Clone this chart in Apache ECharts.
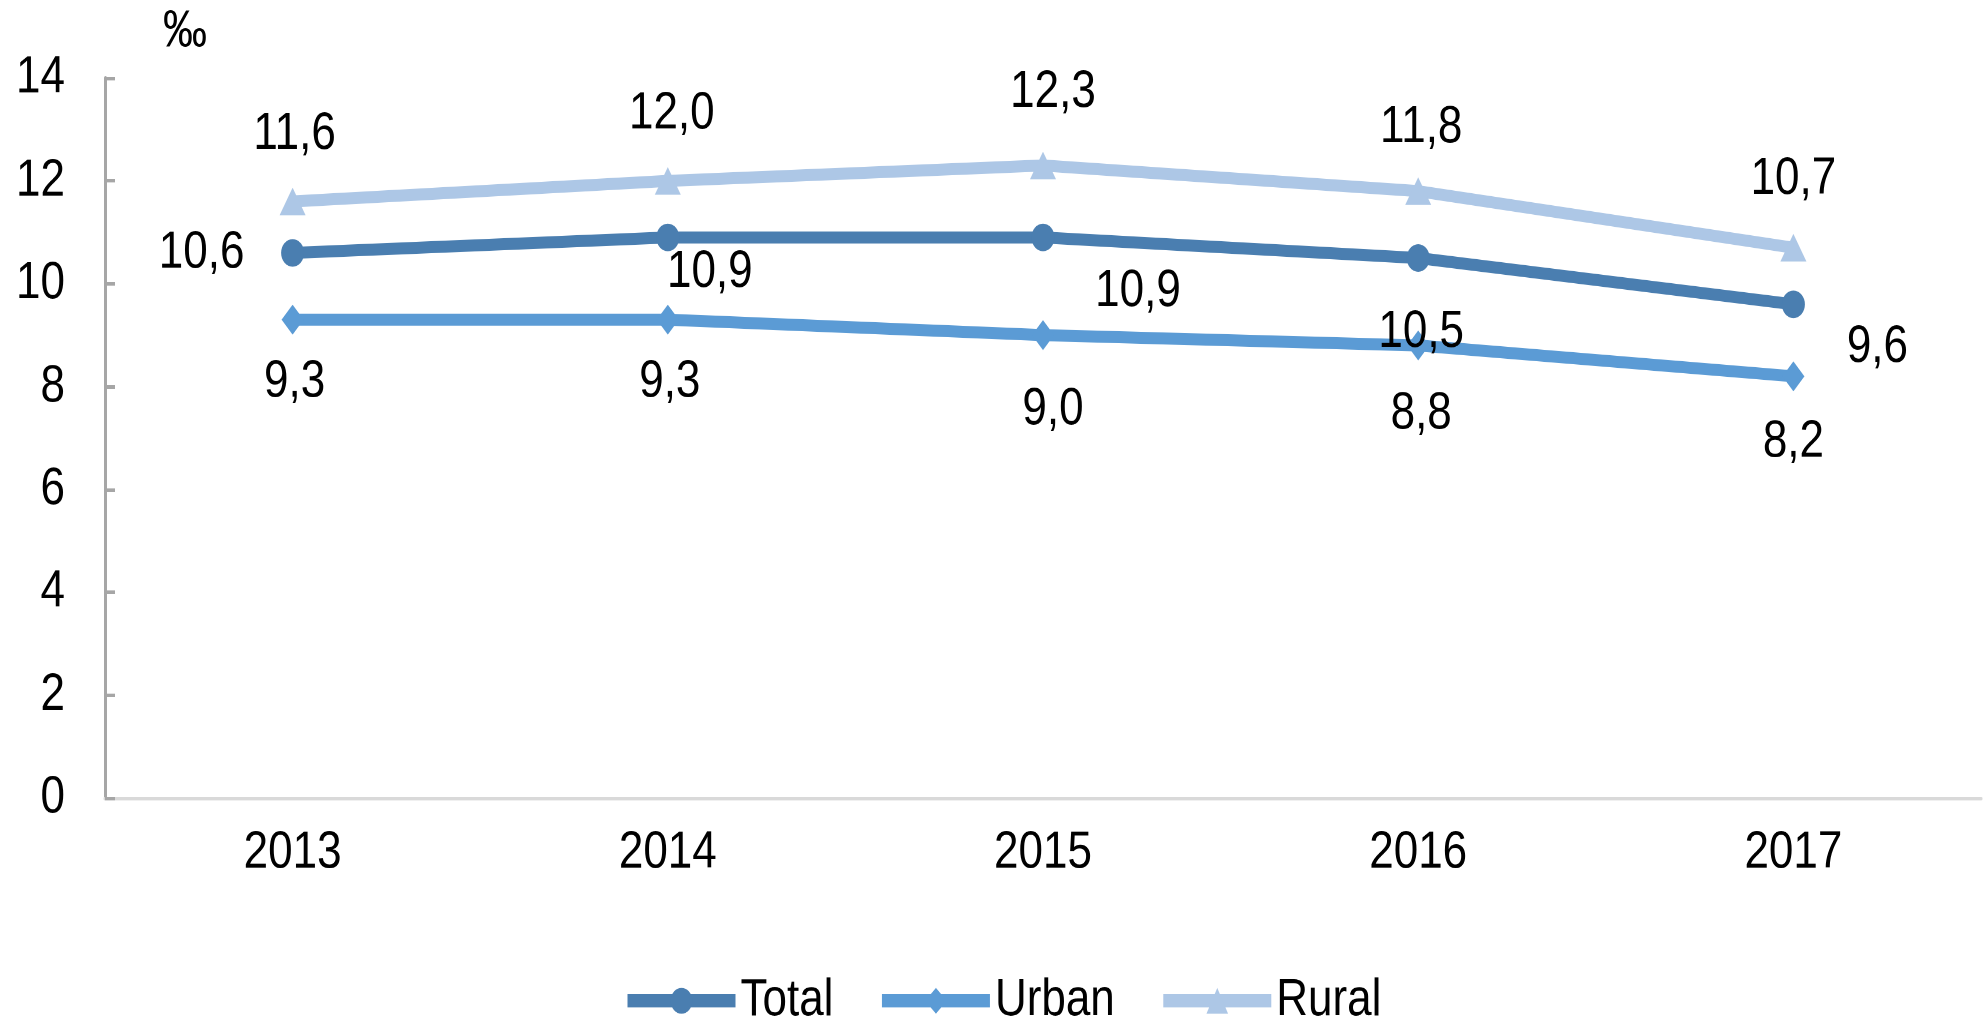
<!DOCTYPE html>
<html>
<head>
<meta charset="utf-8">
<script src="https://cdn.jsdelivr.net/npm/echarts@6/dist/echarts.min.js"></script>
<style>
  html, body { margin: 0; padding: 0; background: #fff; width: 1985px; height: 1023px; }
  #wrap { width: 1985px; height: 1023px; position: relative; overflow: hidden; }
  /* the source picture is stretched vertically, so draw at 1/1.2 height and stretch */
  #main { position: absolute; left: 0; top: 0; width: 1985px; height: 852.5px; transform: scaleY(1.2); transform-origin: 0 0; }
</style>
</head>
<body>
<div id="wrap"><div id="main"></div></div>
<script>
var dom = document.getElementById("main");
var myChart = echarts.init(dom, null, { devicePixelRatio: 2 });

// data
var years = ["2013", "2014", "2015", "2016", "2017"];
var total = [10.6, 10.9, 10.9, 10.5, 9.6];
var urban = [9.3, 9.3, 9.0, 8.8, 8.2];
var rural = [11.6, 12.0, 12.3, 11.8, 10.7];

// label placement (px offsets from the point)
var totalOffsets = [[-91, 0], [42, 29], [95, 45], [3, 62], [84, 36]];
var urbanOffsets = [[2, 52], [2, 52], [10, 62], [3, 57], [0, 55]];
var ruralOffsets = [[2, -56], [4, -56], [10, -61], [3, -53], [0, -57]];

var FONT = "'Liberation Sans', Arial, sans-serif";
var FS = 44;

function comma(v) {
  return v.toFixed(1).replace(".", ",");
}

function buildData(values, offsets) {
  return values.map(function (v, i) {
    return {
      value: v,
      label: { offset: offsets[i] }
    };
  });
}

function makeSeries(name, values, offsets, color, symbol, size) {
  return {
    name: name,
    type: "line",
    data: buildData(values, offsets),
    symbol: symbol,
    symbolSize: size,
    lineStyle: { color: color, width: 10 },
    itemStyle: { color: color },
    emphasis: { disabled: true },
    label: {
      show: true,
      position: "inside",
      color: "#000",
      fontFamily: FONT,
      fontSize: FS,
      formatter: function (p) { return comma(p.value); }
    }
  };
}

var option = {
  animation: false,
  backgroundColor: "#fff",
  title: {
    text: "‰",
    left: 158,
    top: 0,
    textStyle: { fontFamily: FONT, fontSize: 44, fontWeight: "normal", color: "#000" }
  },
  grid: {
    left: 105,
    right: 4,
    top: 65,
    bottom: 188,
    containLabel: false
  },
  legend: {
    top: 807,
    left: 617,
    itemWidth: 108,
    itemHeight: 27,
    itemGap: 43,
    lineStyle: { width: 11 },
    textStyle: { fontFamily: FONT, fontSize: FS, color: "#000" },
    data: ["Total", "Urban", "Rural"]
  },
  xAxis: {
    type: "category",
    data: years,
    boundaryGap: true,
    axisLine: { lineStyle: { color: "#d9d9d9", width: 3 } },
    axisTick: { show: false },
    axisLabel: { color: "#000", fontFamily: FONT, fontSize: FS, margin: 24 }
  },
  yAxis: {
    type: "value",
    min: 0,
    max: 14,
    interval: 2,
    axisLine: { show: true, lineStyle: { color: "#a6a6a6", width: 3 } },
    axisTick: { show: true, inside: true, length: 10, lineStyle: { color: "#a6a6a6", width: 3 } },
    splitLine: { show: false },
    axisLabel: { color: "#000", fontFamily: FONT, fontSize: FS, margin: 40 }
  },
  series: [
    makeSeries("Total", total, totalOffsets, "#4a7eb0", "circle", 23),
    makeSeries("Urban", urban, urbanOffsets, "#5b9bd5", "diamond", [22, 25]),
    makeSeries("Rural", rural, ruralOffsets, "#adc7e6", "triangle", [26, 23])
  ]
};

myChart.setOption(option);
</script>
</body>
</html>
